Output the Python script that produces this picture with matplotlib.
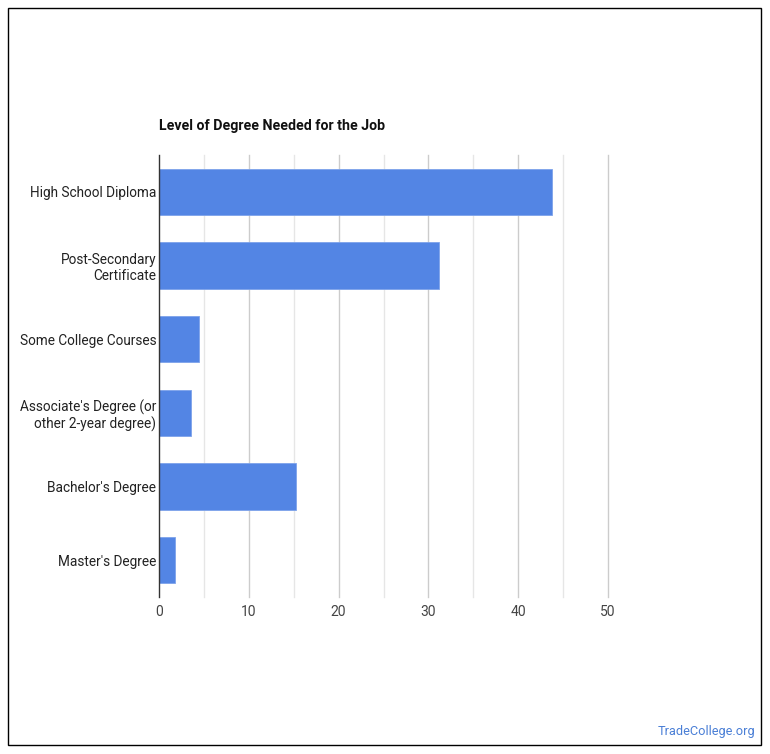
import matplotlib
matplotlib.use("Agg")
import matplotlib.pyplot as plt
from matplotlib.patches import Rectangle

categories = ["High School Diploma", "Post-Secondary\nCertificate", "Some College Courses",
              "Associate's Degree (or\nother 2-year degree)", "Bachelor's Degree", "Master's Degree"]
values = [43.8, 31.2, 4.5, 3.6, 15.3, 1.8]
xticks = [0, 10, 20, 30, 40, 50]
title = "Level of Degree Needed for the Job"
watermark = "TradeCollege.org"

plt.rcParams['font.family'] = ['Roboto', 'DejaVu Sans']

fig = plt.figure(figsize=(7.7, 7.54), dpi=100)
fig.patches.append(Rectangle((8/770, 1-745/754), 753/770, 737/754, transform=fig.transFigure,
                             fill=False, edgecolor='black', linewidth=1))

ax = fig.add_axes([159/770, 1-597/754, 449/770, 442/754])
ypos = list(range(len(categories)))
ax.barh(ypos, values, height=0.63, color='#5385e4', edgecolor='#7ea3ea', linewidth=0.6, zorder=3)
ax.set_ylim(len(categories) - 0.5, -0.5)
ax.set_xlim(0, 50)
ax.set_yticks(ypos)
ax.set_yticklabels(categories, fontsize=9.8, color='#222222', linespacing=1.2)
ax.set_xticks(xticks)
ax.set_xticklabels([str(t) for t in xticks], fontsize=10, color='#444444')
for x in range(5, 50, 10):
    ax.axvline(x, color='#e6e6e6', linewidth=1, zorder=1, clip_on=False)
for x in xticks[1:]:
    ax.axvline(x, color='#cccccc', linewidth=1, zorder=1, clip_on=False)
ax.tick_params(axis='both', length=0)
ax.tick_params(axis='y', pad=2)
ax.tick_params(axis='x', pad=6)
for s in ['top', 'right', 'bottom']:
    ax.spines[s].set_visible(False)
ax.spines['left'].set_color('#333333')
ax.spines['left'].set_linewidth(1)
ax.spines['left'].set_zorder(4)

fig.text(159/770, 1-126/754, title, fontsize=10.2, fontweight='bold', color='#111111',
         ha='left', va='center')
fig.text(755/770, 1-731/754, watermark, fontsize=9.2, color='#4a7fd6', ha='right', va='center')

fig.savefig("out.png", dpi=100)
